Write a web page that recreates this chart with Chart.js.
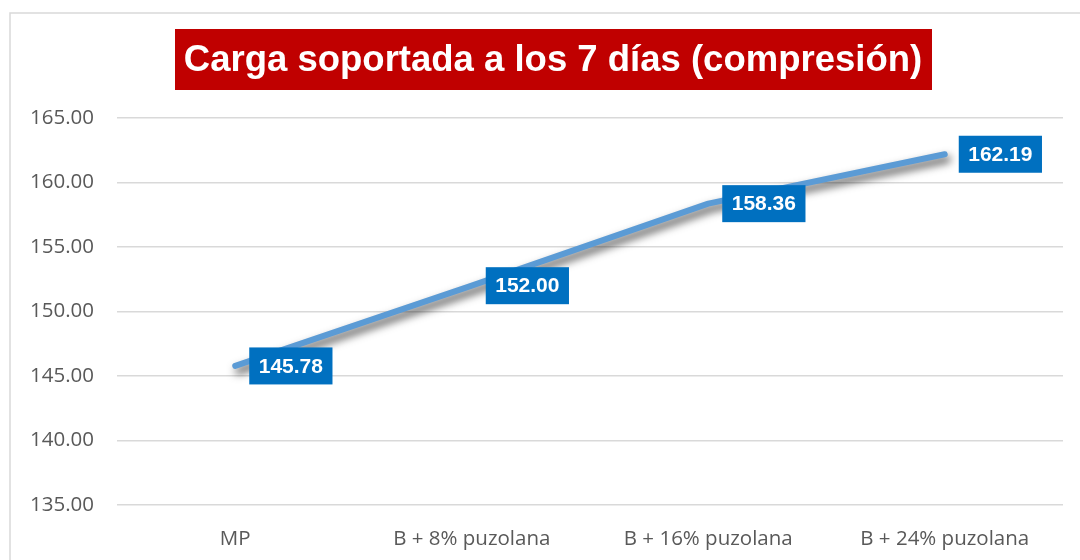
<!DOCTYPE html>
<html>
<head>
<meta charset="utf-8">
<script src="https://cdn.jsdelivr.net/npm/chart.js@4.4.1/dist/chart.umd.min.js"></script>
<style>
  html, body { margin:0; padding:0; background:#fff; }
  #wrap { width:1080px; height:560px; }
</style>
</head>
<body>
<div id="wrap"><canvas id="chart" width="1080" height="560"></canvas></div>
<script>
// ---------- DATA ----------
const CATEGORIES = ["MP", "B + 8% puzolana", "B + 16% puzolana", "B + 24% puzolana"];
const CARGA = [145.78, 152.00, 158.36, 162.19];
const TITLE = "Carga soportada a los 7 días (compresión)";
const Y_MIN = 135, Y_MAX = 165, Y_STEP = 5;

// ---------- PLUGINS ----------
const frameAndTitle = {
  id: "frameAndTitle",
  beforeDraw(chart) {
    const ctx = chart.ctx;
    ctx.save();
    // outer frame (top + left only visible)
    ctx.strokeStyle = "#D9D9D9";
    ctx.lineWidth = 1.5;
    ctx.beginPath();
    ctx.moveTo(10, 560); ctx.lineTo(10, 13); ctx.lineTo(1080, 13);
    ctx.stroke();
    // title box
    ctx.fillStyle = "#C00000";
    ctx.fillRect(175, 29, 757, 61);
    ctx.font = "bold 36.5px 'Liberation Sans', Arial, sans-serif";
    ctx.fillStyle = "#ffffff";
    ctx.textAlign = "center";
    ctx.textBaseline = "middle";
    ctx.fillText(TITLE, 553, 61);
    ctx.restore();
  }
};

const lineShadow = {
  id: "lineShadow",
  beforeDatasetDraw(chart) {
    const ctx = chart.ctx;
    ctx.save();
    ctx.shadowColor = "rgba(0,0,0,0.7)";
    ctx.shadowBlur = 8;
    ctx.shadowOffsetX = 3;
    ctx.shadowOffsetY = 5;
  },
  afterDatasetDraw(chart) {
    chart.ctx.restore();
  }
};

const valueBoxes = {
  id: "valueBoxes",
  afterDatasetsDraw(chart) {
    const ctx = chart.ctx;
    const meta = chart.getDatasetMeta(0);
    ctx.save();
    ctx.font = "bold 21px 'Liberation Sans', Arial, sans-serif";
    ctx.textBaseline = "middle";
    ctx.textAlign = "center";
    meta.data.forEach((pt, i) => {
      const txt = CARGA[i].toFixed(2);
      const w = ctx.measureText(txt).width + 19;
      const h = 37;
      const left = pt.x + 14;
      ctx.fillStyle = "#0070C0";
      ctx.fillRect(left, pt.y - h / 2, w, h);
      ctx.fillStyle = "#ffffff";
      ctx.fillText(txt, left + w / 2, pt.y + 1);
    });
    ctx.restore();
  }
};

// ---------- CHART ----------
new Chart(document.getElementById("chart"), {
  type: "line",
  data: {
    labels: CATEGORIES,
    datasets: [{
      data: CARGA,
      borderColor: "#5B9BD5",
      borderWidth: 6,
      borderCapStyle: "round",
      borderJoinStyle: "round",
      pointRadius: 0,
      pointHoverRadius: 0,
      tension: 0,
      fill: false
    }]
  },
  options: {
    responsive: false,
    animation: false,
    layout: { padding: { top: 118, right: 17, bottom: 0, left: 0 } },
    plugins: { legend: { display: false }, title: { display: false }, tooltip: { enabled: false } },
    scales: {
      x: {
        offset: true,
        grid: { display: false },
        border: { display: false },
        ticks: {
          color: "#595959",
          padding: 14,
          maxRotation: 0,
          font: { family: "'Open Sans', sans-serif", size: 20.5 }
        },
        afterFit(scale) { scale.height = 55; }
      },
      y: {
        min: Y_MIN,
        max: Y_MAX,
        border: { display: false },
        grid: { color: "#D9D9D9", lineWidth: 1.5, drawTicks: false },
        ticks: {
          stepSize: Y_STEP,
          color: "#595959",
          padding: 23,
          font: { family: "'Open Sans', sans-serif", size: 20.5 },
          callback: v => Number(v).toFixed(2)
        },
        afterFit(scale) { scale.width = 117; }
      }
    }
  },
  plugins: [frameAndTitle, lineShadow, valueBoxes]
});
</script>
</body>
</html>
